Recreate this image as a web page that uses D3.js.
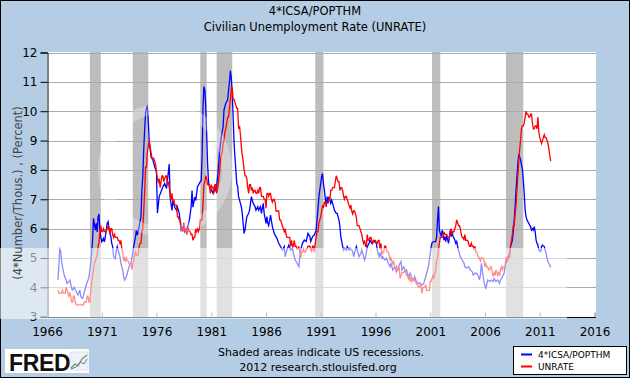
<!DOCTYPE html>
<html>
<head>
<meta charset="utf-8">
<script src="https://cdn.jsdelivr.net/npm/d3@7"></script>
<style>
  html, body { margin: 0; padding: 0; background: #fff; }
  svg { display: block; font-family: "DejaVu Sans", Verdana, sans-serif; }
</style>
</head>
<body>
<svg id="chart" width="630" height="378"></svg>
<script>
// titres et libellés
const titles = ["4*ICSA/POPTHM", "Civilian Unemployment Rate (UNRATE)"];
const yLabel = "(4*Number/Thous.) , (Percent)";
const footer = ["Shaded areas indicate US recessions.", "2012 research.stlouisfed.org"];
const seriesNames = ["4*ICSA/POPTHM", "UNRATE"];
const yTicks = [3, 4, 5, 6, 7, 8, 9, 10, 11, 12];
const xTicks = [1966, 1971, 1976, 1981, 1986, 1991, 1996, 2001, 2006, 2011, 2016];

// récessions (mois de pic, mois de creux)
const recessions = [
  ["1969-12", "1970-11"], ["1973-11", "1975-03"], ["1980-01", "1980-07"],
  ["1981-07", "1982-11"], ["1990-07", "1991-03"], ["2001-03", "2001-11"],
  ["2007-12", "2009-06"]
];

// 4*ICSA/POPTHM
const claimsDates = [
  "1967-01","1967-02","1967-03","1967-04","1967-05","1967-06","1967-08","1967-10","1967-11",
  "1968-01","1968-02","1968-04","1968-05","1968-07","1968-09","1968-11",
  "1969-01","1969-02","1969-04","1969-06","1969-08","1969-10","1969-11",
  "1970-01","1970-03","1970-04","1970-06","1970-07","1970-08","1970-09","1970-10","1970-11","1970-12",
  "1971-01","1971-03","1971-04","1971-05","1971-07","1971-08","1971-09","1971-11","1971-12",
  "1972-01","1972-02","1972-04","1972-05","1972-06","1972-07","1972-09","1972-10","1972-12",
  "1973-01","1973-02","1973-04","1973-06","1973-07","1973-09","1973-11","1973-12",
  "1974-02","1974-03","1974-04","1974-06","1974-08","1974-09","1974-10","1974-11","1974-12",
  "1975-01","1975-02","1975-03","1975-04","1975-05","1975-07","1975-09","1975-11",
  "1976-01","1976-02","1976-04","1976-06","1976-08","1976-10","1976-12",
  "1977-01","1977-03","1977-04","1977-05","1977-06","1977-07","1977-09","1977-11","1977-12",
  "1978-02","1978-04","1978-06","1978-08","1978-09","1978-11",
  "1979-01","1979-03","1979-04","1979-05","1979-07","1979-08","1979-10","1979-12",
  "1980-02","1980-03","1980-04","1980-05","1980-06","1980-07","1980-08","1980-09","1980-10","1980-11",
  "1981-01","1981-03","1981-04","1981-05","1981-07","1981-08","1981-10","1981-12",
  "1982-02","1982-03","1982-05","1982-07","1982-08","1982-09","1982-10","1982-11","1982-12",
  "1983-01","1983-02","1983-03","1983-04","1983-05","1983-06","1983-07","1983-09","1983-10","1983-11","1983-12",
  "1984-01","1984-02","1984-03","1984-04","1984-06","1984-07","1984-08","1984-09","1984-10","1984-11",
  "1985-01","1985-02","1985-04","1985-05","1985-07","1985-08","1985-10","1985-11",
  "1986-01","1986-02","1986-03","1986-04","1986-06","1986-08","1986-10","1986-11",
  "1987-01","1987-03","1987-05","1987-07","1987-09","1987-10","1987-12",
  "1988-02","1988-04","1988-06","1988-07","1988-09","1988-11",
  "1989-01","1989-02","1989-03","1989-05","1989-07","1989-09","1989-11",
  "1990-01","1990-02","1990-04","1990-06","1990-08","1990-09","1990-11","1990-12",
  "1991-01","1991-02","1991-03","1991-04","1991-05","1991-07","1991-08","1991-09","1991-10","1991-12",
  "1992-01","1992-03","1992-04","1992-06","1992-07","1992-09","1992-10","1992-11",
  "1993-01","1993-02","1993-03","1993-05","1993-06","1993-08","1993-09","1993-11","1993-12",
  "1994-01","1994-03","1994-04","1994-06","1994-07","1994-09","1994-10","1994-12",
  "1995-01","1995-03","1995-04","1995-06","1995-07","1995-09","1995-10","1995-12",
  "1996-02","1996-03","1996-05","1996-06","1996-08","1996-09","1996-11",
  "1997-01","1997-03","1997-05","1997-06","1997-08","1997-10","1997-12",
  "1998-02","1998-04","1998-05","1998-06","1998-08","1998-10","1998-11",
  "1999-01","1999-03","1999-05","1999-07","1999-08","1999-10","1999-12",
  "2000-02","2000-04","2000-06","2000-08","2000-09","2000-11","2000-12",
  "2001-01","2001-02","2001-03","2001-05","2001-06","2001-07","2001-08","2001-09","2001-10","2001-11","2001-12",
  "2002-01","2002-02","2002-03","2002-04","2002-05","2002-06","2002-07","2002-09","2002-10","2002-11","2002-12",
  "2003-01","2003-02","2003-04","2003-05","2003-06","2003-07","2003-08","2003-10","2003-12",
  "2004-02","2004-03","2004-05","2004-07","2004-09","2004-11","2004-12",
  "2005-02","2005-04","2005-06","2005-07","2005-08","2005-09","2005-10","2005-11",
  "2006-01","2006-02","2006-04","2006-06","2006-08","2006-10","2006-11",
  "2007-01","2007-03","2007-05","2007-06","2007-08","2007-10","2007-11",
  "2008-01","2008-02","2008-04","2008-05","2008-07","2008-08","2008-09","2008-10","2008-11","2008-12",
  "2009-01","2009-02","2009-03","2009-04","2009-05","2009-06","2009-07","2009-08","2009-09","2009-10","2009-11",
  "2010-01","2010-02","2010-03","2010-04","2010-05","2010-06","2010-07","2010-08","2010-09","2010-10","2010-11","2010-12",
  "2011-02","2011-03","2011-04","2011-05","2011-06","2011-07","2011-08","2011-09","2011-10","2011-11","2011-12",
  "2012-01"
];
const claimsValues = [
  4.25,4.75,5.3,5.25,4.9,4.7,4.4,4.25,4.13,
  4.2,4.25,3.97,3.91,4.0,3.85,3.74,
  3.91,3.68,3.62,3.85,4.08,4.25,4.36,
  4.82,5.61,6.35,5.95,6.18,5.89,6.4,6.5,5.95,5.72,
  5.55,5.67,5.55,5.73,6.18,6.24,6.0,5.73,5.5,
  5.39,5.04,4.98,5.27,5.39,5.27,5.04,4.82,4.59,
  4.36,4.25,4.36,4.59,4.7,4.82,5.16,5.39,
  5.73,5.95,5.78,6.07,6.41,7.3,7.77,8.68,9.36,
  9.93,10.1,10.2,9.7,9.02,8.45,8.34,8.11,
  7.94,6.53,7.1,7.26,7.43,7.54,7.37,
  7.65,8.2,7.07,6.84,6.62,6.96,6.73,6.62,6.73,
  6.51,5.94,6.05,5.88,5.94,6.05,
  6.28,6.73,7.3,6.73,7.07,6.96,7.43,7.54,
  7.65,8.45,10.15,10.84,10.72,10.15,9.24,8.2,7.6,7.43,
  7.32,7.2,7.43,7.26,7.49,7.77,8.56,9.13,
  9.47,10.04,10.27,10.38,10.72,11.0,11.38,11.12,10.6,
  9.81,8.9,8.45,8.0,7.54,7.43,7.09,6.86,6.75,6.52,6.18,
  5.84,5.95,6.18,6.41,6.52,6.63,6.86,7.09,6.97,6.86,
  6.75,6.63,6.75,6.63,6.75,6.52,6.86,6.52,
  6.18,6.41,6.18,6.1,6.46,6.07,5.84,5.78,
  5.67,5.5,5.39,5.27,5.39,5.04,5.27,
  5.44,5.27,5.33,5.16,4.93,4.82,
  4.7,5.04,5.27,5.5,5.61,5.56,5.84,
  5.73,5.56,5.73,5.78,5.95,6.3,7.09,7.32,
  7.54,7.77,7.88,7.54,7.32,6.75,7.09,6.86,7.09,6.86,
  6.97,6.75,6.63,6.52,6.52,6.29,6.07,5.73,
  5.39,5.27,5.33,5.27,5.39,5.27,5.33,5.27,5.22,
  5.04,5.27,5.39,5.16,5.04,5.16,5.27,5.04,
  4.93,5.16,5.39,5.5,5.61,5.5,5.56,5.56,
  5.5,5.27,5.04,5.16,4.99,5.04,4.93,
  4.99,4.82,4.7,4.82,4.59,4.7,4.53,
  4.7,4.82,4.88,4.59,4.7,4.53,4.59,
  4.36,4.48,4.3,4.25,4.36,4.19,4.14,
  4.14,4.08,4.14,4.36,4.48,4.7,4.93,
  5.16,5.39,5.52,5.56,5.56,5.56,5.73,6.29,6.75,5.95,5.84,
  5.73,5.95,5.84,5.61,5.73,5.56,5.78,5.5,5.73,5.95,5.73,
  5.9,5.73,5.61,5.5,5.56,5.39,5.27,5.04,4.93,
  4.82,4.7,4.65,4.7,4.59,4.53,4.42,
  4.48,4.48,4.36,4.25,4.42,4.82,4.6,4.36,
  4.02,3.97,4.25,4.2,4.25,4.2,4.3,
  4.2,4.25,4.14,4.25,4.36,4.48,4.7,
  4.93,5.04,5.16,5.39,5.61,5.9,6.29,6.75,7.32,7.77,
  8.22,8.54,8.45,8.34,8.17,8.0,7.66,7.2,6.63,6.41,6.29,
  6.18,6.12,6.07,5.95,6.0,5.95,6.07,5.9,5.61,5.5,5.44,5.27,
  5.22,5.39,5.44,5.41,5.39,5.27,5.16,4.99,4.87,4.82,4.75,
  4.68
];

// UNRATE mensuel, de 1967-01 à 2012-01
const unrateStart = "1967-01";
const unrate = [
  3.9,3.8,3.8,3.8,3.8,3.9,3.8,3.8,3.8,4.0,3.9,3.8,
  3.7,3.8,3.7,3.5,3.5,3.7,3.7,3.5,3.4,3.4,3.4,3.4,
  3.4,3.4,3.4,3.4,3.4,3.5,3.5,3.5,3.7,3.7,3.5,3.5,
  3.9,4.2,4.4,4.6,4.8,4.9,5.0,5.1,5.4,5.5,5.9,6.1,
  5.9,5.9,6.0,5.9,5.9,5.9,6.0,6.1,6.0,5.8,6.0,6.0,
  5.8,5.7,5.8,5.7,5.7,5.7,5.6,5.6,5.5,5.6,5.3,5.2,
  4.9,5.0,4.9,5.0,4.9,4.9,4.8,4.8,4.8,4.6,4.8,4.9,
  5.1,5.2,5.1,5.1,5.1,5.4,5.5,5.5,5.9,6.0,6.6,7.2,
  8.1,8.1,8.6,8.8,9.0,8.8,8.6,8.4,8.4,8.4,8.3,8.2,
  7.9,7.7,7.6,7.7,7.4,7.6,7.8,7.8,7.6,7.7,7.8,7.8,
  7.5,7.6,7.4,7.2,7.0,7.2,6.9,7.0,6.8,6.8,6.8,6.4,
  6.4,6.3,6.3,6.1,6.0,5.9,6.2,5.9,6.0,5.8,5.9,6.0,
  5.9,5.9,5.8,5.8,5.6,5.7,5.7,6.0,5.9,6.0,5.9,6.0,
  6.3,6.3,6.3,6.9,7.5,7.6,7.8,7.7,7.5,7.5,7.5,7.2,
  7.5,7.4,7.4,7.2,7.5,7.5,7.2,7.4,7.6,7.9,8.3,8.5,
  8.6,8.9,9.0,9.3,9.4,9.6,9.8,9.8,10.1,10.4,10.8,10.8,
  10.4,10.4,10.3,10.2,10.1,10.1,9.4,9.5,9.2,8.8,8.5,8.3,
  8.0,7.8,7.8,7.7,7.4,7.2,7.5,7.5,7.3,7.4,7.2,7.3,
  7.3,7.2,7.2,7.3,7.2,7.4,7.4,7.1,7.1,7.1,7.0,7.0,
  6.7,7.2,7.2,7.1,7.2,7.2,7.0,6.9,7.0,7.0,6.9,6.6,
  6.6,6.6,6.6,6.3,6.3,6.2,6.1,6.0,5.9,6.0,5.8,5.7,
  5.7,5.7,5.7,5.4,5.6,5.4,5.4,5.6,5.4,5.4,5.3,5.3,
  5.4,5.2,5.0,5.2,5.2,5.3,5.2,5.2,5.3,5.3,5.4,5.4,
  5.4,5.3,5.2,5.4,5.4,5.2,5.5,5.7,5.9,5.9,6.2,6.3,
  6.4,6.6,6.8,6.7,6.9,6.9,6.8,6.9,6.9,7.0,7.0,7.3,
  7.3,7.4,7.4,7.4,7.6,7.8,7.7,7.6,7.6,7.3,7.4,7.4,
  7.3,7.1,7.0,7.1,7.1,7.0,6.9,6.8,6.7,6.8,6.6,6.5,
  6.6,6.6,6.5,6.4,6.1,6.1,6.1,6.0,5.9,5.8,5.6,5.5,
  5.6,5.4,5.4,5.8,5.6,5.6,5.7,5.7,5.6,5.5,5.6,5.6,
  5.6,5.5,5.5,5.6,5.6,5.3,5.5,5.1,5.2,5.2,5.4,5.4,
  5.3,5.2,5.2,5.1,4.9,5.0,4.9,4.8,4.9,4.7,4.6,4.7,
  4.6,4.6,4.7,4.3,4.4,4.5,4.5,4.5,4.6,4.5,4.4,4.4,
  4.3,4.4,4.2,4.3,4.2,4.3,4.3,4.2,4.2,4.1,4.1,4.0,
  4.0,4.1,4.0,3.8,4.0,4.0,4.0,4.1,3.9,3.9,3.9,3.9,
  4.2,4.2,4.3,4.4,4.3,4.5,4.6,4.9,5.0,5.3,5.5,5.7,
  5.7,5.7,5.7,5.9,5.8,5.8,5.8,5.7,5.7,5.7,5.9,6.0,
  5.8,5.9,5.9,6.0,6.1,6.3,6.2,6.1,6.1,6.0,5.8,5.7,
  5.7,5.6,5.8,5.6,5.6,5.6,5.5,5.4,5.4,5.5,5.4,5.4,
  5.3,5.4,5.2,5.2,5.1,5.0,5.0,4.9,5.0,5.0,5.0,4.9,
  4.7,4.8,4.7,4.7,4.6,4.6,4.7,4.7,4.5,4.4,4.5,4.4,
  4.6,4.5,4.4,4.5,4.4,4.6,4.7,4.6,4.7,4.7,4.7,5.0,
  5.0,4.9,5.1,5.0,5.4,5.6,5.8,6.1,6.1,6.5,6.8,7.3,
  7.8,8.3,8.7,9.0,9.4,9.5,9.5,9.6,9.8,10.0,9.9,9.9,
  9.8,9.8,9.9,9.9,9.6,9.4,9.4,9.5,9.5,9.4,9.8,9.3,
  9.1,9.0,8.9,9.0,9.1,9.2,9.1,9.1,9.0,8.9,8.7,8.5,
  8.3
];

const W = 630, H = 378;
const plot = { left: 47, right: 596, top: 52, bottom: 317 };
const bg = "#b4cde4";

const parseMonth = d3.timeParse("%Y-%m");
const svg = d3.select("#chart");

const x = d3.scaleTime()
  .domain([new Date(1966, 0, 1), new Date(2016, 0, 1)])
  .range([plot.left, 594.5]);
const y = d3.scaleLinear().domain([3, 12]).range([316.7, 52.5]);

// fond bleu + cadre
svg.append("rect").attr("x", 0.5).attr("y", 0.5).attr("width", W - 1).attr("height", H - 1)
  .attr("fill", bg).attr("stroke", "#000");

// zone du graphique
svg.append("rect")
  .attr("x", plot.left).attr("y", plot.top)
  .attr("width", plot.right - plot.left).attr("height", plot.bottom - plot.top)
  .attr("fill", "#fff");

// bandes de récession
svg.append("g").selectAll("rect")
  .data(recessions)
  .join("rect")
  .attr("x", (d) => x(parseMonth(d[0])))
  .attr("width", (d) => x(d3.timeMonth.offset(parseMonth(d[1]), 1)) - x(parseMonth(d[0])))
  .attr("y", plot.top)
  .attr("height", plot.bottom - plot.top)
  .attr("fill", "#bdbdbd");

// grille horizontale
svg.append("g").selectAll("line")
  .data(yTicks.filter((t) => t > 3))
  .join("line")
  .attr("x1", plot.left).attr("x2", plot.right)
  .attr("y1", (d) => Math.round(y(d)) + 0.5).attr("y2", (d) => Math.round(y(d)) + 0.5)
  .attr("stroke", "#aaa");

// séries
const claims = claimsDates.map((d, i) => ({ date: parseMonth(d), value: claimsValues[i] }));
const unrateData = unrate.map((v, i) => ({
  date: d3.timeMonth.offset(parseMonth(unrateStart), i),
  value: v,
}));
const line = d3.line().x((d) => x(d.date)).y((d) => y(d.value));

svg.append("path").datum(claims)
  .attr("d", line).attr("fill", "none").attr("stroke", "#0000ff").attr("stroke-width", 1.3);
svg.append("path").datum(unrateData)
  .attr("d", line).attr("fill", "none").attr("stroke", "#ff0000").attr("stroke-width", 1.3);

// axe Y
const yAxis = svg.append("g").attr("transform", `translate(${plot.left + 0.5},0)`)
  .call(d3.axisLeft(y).tickValues(yTicks).tickSize(7).tickPadding(3).tickFormat(d3.format("d")));
yAxis.select(".domain").attr("stroke", "#000");
yAxis.selectAll(".tick text").attr("font-size", 12).attr("fill", "#000")
  .attr("font-family", "DejaVu Sans, Verdana, sans-serif");

// axe X (graduations vers le haut)
const xAxis = svg.append("g").attr("transform", `translate(0,${plot.bottom + 0.5})`)
  .call(d3.axisBottom(x)
    .tickValues(xTicks.map((t) => new Date(t, 0, 1)))
    .tickSize(-5).tickPadding(10)
    .tickFormat(d3.timeFormat("%Y")));
xAxis.select(".domain").attr("d", `M${plot.left},0H${plot.right}`).attr("stroke", "#000");
xAxis.selectAll(".tick line").attr("stroke", "#777");
xAxis.selectAll(".tick text").attr("font-size", 12).attr("fill", "#000")
  .attr("font-family", "DejaVu Sans, Verdana, sans-serif");

// filigrane (bande blanchâtre en bas)
const wm = svg.append("g").attr("pointer-events", "none");
wm.append("rect").attr("x", 0).attr("y", 248).attr("width", 567).attr("height", 71)
  .attr("fill", "#fff").attr("opacity", 0.55);
wm.append("circle").attr("cx", 165).attr("cy", 170).attr("r", 62)
  .attr("fill", "none").attr("stroke", "#fff").attr("stroke-width", 10).attr("opacity", 0.3);

// titres
svg.append("g").selectAll("text")
  .data(titles)
  .join("text")
  .attr("x", 315).attr("y", (d, i) => 15 + i * 16)
  .attr("text-anchor", "middle")
  .attr("font-size", 11.5)
  .text((d) => d);

// titre de l'axe Y
svg.append("text")
  .attr("transform", "translate(22,193) rotate(-90)")
  .attr("text-anchor", "middle")
  .attr("font-size", 11.5)
  .attr("fill", "#444")
  .text(yLabel);

// pied de page
svg.append("g").selectAll("text")
  .data(footer)
  .join("text")
  .attr("x", (d, i) => (i === 0 ? 321 : 318)).attr("y", (d, i) => 356 + i * 15)
  .attr("text-anchor", "middle")
  .attr("font-size", 11)
  .text((d) => d);

// logo FRED
const logo = svg.append("g");
logo.append("rect").attr("x", 5).attr("y", 349).attr("width", 84).attr("height", 24).attr("fill", "#fff");
logo.append("text").attr("x", 9).attr("y", 371).attr("font-size", 23).attr("font-weight", "bold")
  .attr("font-family", "Liberation Sans, Arial, sans-serif").attr("letter-spacing", -0.3)
  .attr("fill", "#111").text("FRED");
logo.append("rect").attr("x", 70).attr("y", 352).attr("width", 18).attr("height", 18)
  .attr("fill", "#eef2f6").attr("stroke", "#ccd").attr("stroke-width", 0.5);
logo.append("path").attr("d", "M71,368 L75,364 L78,366 L82,359 L87,355")
  .attr("fill", "none").attr("stroke", "#6a9d4a").attr("stroke-width", 1.2);
logo.append("path").attr("d", "M71,369 L76,367 L80,362 L84,364 L87,359")
  .attr("fill", "none").attr("stroke", "#5b7fb6").attr("stroke-width", 1);

// légende
const legend = svg.append("g").attr("transform", "translate(513,346)");
legend.append("rect").attr("x", 0.5).attr("y", 0.5).attr("width", 113).attr("height", 28)
  .attr("fill", "#fff").attr("stroke", "#000");
const colors = ["#0000ff", "#ff0000"];
seriesNames.forEach((name, i) => {
  legend.append("line").attr("x1", 8).attr("x2", 19)
    .attr("y1", 8.5 + i * 12).attr("y2", 8.5 + i * 12)
    .attr("stroke", colors[i]).attr("stroke-width", 2);
  legend.append("text").attr("x", 25).attr("y", 12 + i * 12)
    .attr("font-size", 9).text(name);
});
</script>
</body>
</html>
